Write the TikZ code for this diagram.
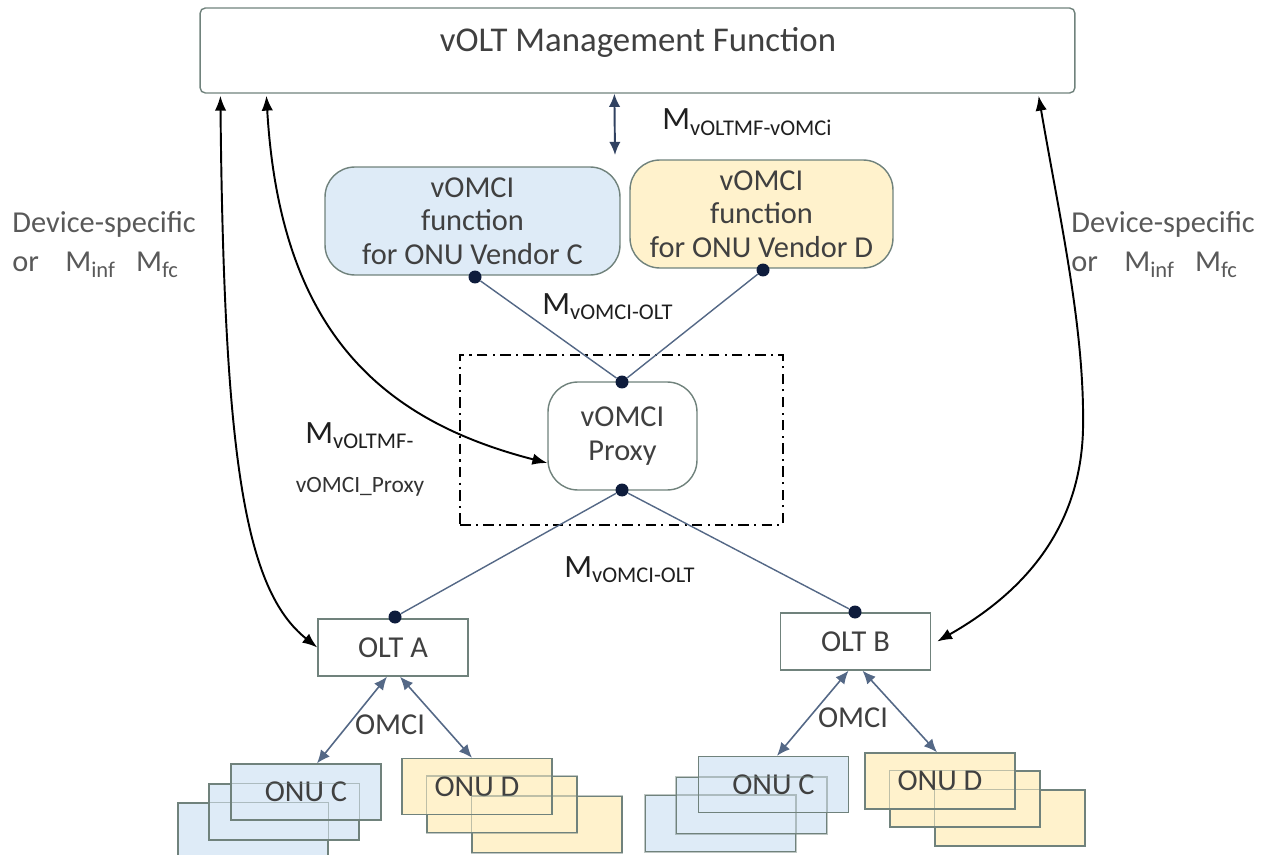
\documentclass[tikz,border=0pt]{standalone}
\usepackage{fontspec}
\setmainfont{Carlito}
\usetikzlibrary{arrows.meta,calc}
\definecolor{boxline}{RGB}{112,130,124}
\definecolor{vendC}{RGB}{222,235,247}
\definecolor{vendD}{RGB}{255,242,204}
\definecolor{slate}{RGB}{84,104,134}
\definecolor{navy}{RGB}{14,28,60}
\definecolor{txt}{RGB}{64,64,64}
\definecolor{devtxt}{RGB}{89,89,89}
\newcommand{\Msub}[1]{M\raisebox{-3.4pt}{\fontsize{12.8}{13}\selectfont #1}}

\begin{document}
\begin{tikzpicture}[x=0.02cm, y=-0.02cm,
	box/.style={draw=boxline, line width=0.8pt, text=txt, align=center, inner sep=0pt,
		font=\fontsize{17.3}{19}\selectfont},
	vbox/.style={box, rounded corners=17pt, minimum height=2.16cm},
	olt/.style={box, fill=white, minimum width=3cm, minimum height=1.14cm},
	onu/.style={box, minimum width=3cm, minimum height=1.12cm},
	dot/.style={circle, fill=navy, inner sep=0pt, minimum size=0.26cm},
	link/.style={slate, line width=0.8pt},
	omci/.style={slate, line width=0.9pt, {Latex[length=7.5pt,width=6.5pt]}-{Latex[length=7.5pt,width=6.5pt]}},
	mgmt/.style={black, line width=1.1pt, {Latex[length=8.5pt,width=6.5pt]}-{Latex[length=8.5pt,width=6.5pt]}},
	mlbl/.style={inner sep=0pt, text=black!88, font=\fontsize{18.5}{20}\selectfont},
	dev/.style={inner sep=0pt, text=devtxt, font=\fontsize{17.3}{19}\selectfont}]
	\useasboundingbox (0,0) rectangle (1262,855);

	\node[box, rounded corners=3pt, minimum width=17.5cm, minimum height=1.7cm] (mf) at (637.5,50.5) {};
	\node[text=txt, font=\fontsize{19.8}{21}\selectfont] (mftext) at (638,42) {vOLT Management Function};

	\node[vbox, fill=vendC, minimum width=5.9cm] (vfC) at (472.5,221) {vOMCI\\function\\for ONU Vendor C};
	\node[vbox, fill=vendD, minimum width=5.26cm] (vfD) at (761.5,214) {vOMCI\\function\\for ONU Vendor D};

	\node[draw, line width=1pt, dash pattern=on 6pt off 3pt on 1.2pt off 3pt, minimum width=6.46cm, minimum height=3.4cm] (pbox) at (621.5,440) {};
	\node[vbox, fill=white, minimum width=2.98cm] (proxy) at (622.5,436) {vOMCI\\Proxy};

	\node[olt] (oltA) at (393,647.5) {OLT A};
	\node[olt] (oltB) at (855.5,641.5) {OLT B};

	% ONU stacks: front, middle, back
	\foreach \nm/\fx/\fy/\col/\lbl/\ax/\ay/\bx/\by in {CA/306/792/vendC/ONU C/-22/20/-53/39,
		DA/477/786.5/vendD/ONU D/25/18/70/38, CB/773.5/784.5/vendC/ONU C/-22/21/-53/39,
		DB/940/781/vendD/ONU D/25/18/70/37} {
		\node[onu, fill=\col] (onu\nm3) at ({\fx+(\bx)},{\fy+(\by)}) {};
		\node[onu, fill=\col] (onu\nm2) at ({\fx+(\ax)},{\fy+(\ay)}) {};
		\node[onu, fill=\col] (onu\nm) at (\fx,\fy) {\lbl};
		\draw[boxline, line width=0.8pt, opacity=0.45] (onu\nm2.north west) rectangle (onu\nm2.south east);
		\draw[boxline, line width=0.8pt, opacity=0.45] (onu\nm3.north west) rectangle (onu\nm3.south east);
	}

	\node[dot] (dC) at (475,277) {};
	\node[dot] (dD) at (763,270) {};
	\node[dot] (dP1) at (622,382) {};
	\node[dot] (dP2) at (622,490) {};
	\node[dot] (dA) at (395,617) {};
	\node[dot] (dB) at (855,612) {};
	\draw[link] (dC) -- (dP1);
	\draw[link] (dD) -- (dP1);
	\draw[link] (dP2) -- (dA);
	\draw[link] (dP2) -- (dB);

	\coordinate (vt) at (615,155);
	\draw[slate!50!navy, line width=1.1pt, {Latex[length=7.5pt,width=6.5pt]}-{Latex[length=7.5pt,width=6.5pt]}] ($(mf.south west)+(415,0)$) -- (vt);

	\draw[omci] ($(oltA.south)+(-6,0)$) -- ($(onuCA.north)+(11,0)$);
	\draw[omci] ($(oltA.south)+(7,0)$) -- ($(onuDA.north)+(-5,0)$);
	\draw[omci] ($(oltB.south)+(-7,0)$) -- ($(onuCB.north)+(3.5,0)$);
	\draw[omci] ($(oltB.south)+(7,0)$) -- ($(onuDB.north)+(-3,0)$);
	\node[text=txt, font=\fontsize{17.3}{19}\selectfont] (omciA) at (390,725) {OMCI};
	\node[text=txt, font=\fontsize{17.3}{19}\selectfont] (omciB) at (853,718) {OMCI};

	\draw[mgmt] ($(mf.south west)+(21,2)$) .. controls (224,460) and (245,590) .. (oltA.west);
	\draw[mgmt] ($(mf.south west)+(67,2)$) .. controls (280,330) and (380,420) .. ($(proxy.west)+(0,27)$);
	\draw[mgmt] ($(mf.south east)+(-37,2)$) .. controls (1060,220) and (1085,330) .. (1083,430)
		.. controls (1080,540) and (1010,600) .. ($(oltB.east)+(6,0)$);

	\node[mlbl, anchor=base west] (mIfc) at (662,130) {\Msub{vOLTMF-vOMCi}};
	\node[mlbl, anchor=base west] (mUp) at (542,314) {\Msub{vOMCI-OLT}};
	\node[mlbl, anchor=base west] (mLo) at (564,577) {\Msub{vOMCI-OLT}};
	\node[mlbl, anchor=base west] (mPx) at (305,443) {\Msub{vOLTMF-}};
	\node[text=black!80, font=\fontsize{13.3}{14}\selectfont] (mPx2) at (360,487) {vOMCI\_Proxy};

	\node[dev, anchor=base west] (devL) at (12,233) {Device-specific};
	\node[dev, anchor=base west] (devL2) at (12,272) {or\hspace{15pt}\Msub{inf}\hspace{12pt}\Msub{fc}};
	\node[dev, anchor=base west] (devR) at (1071,233) {Device-specific};
	\node[dev, anchor=base west] (devR2) at (1071,272) {or\hspace{15pt}\Msub{inf}\hspace{12pt}\Msub{fc}};
\end{tikzpicture}
\end{document}
